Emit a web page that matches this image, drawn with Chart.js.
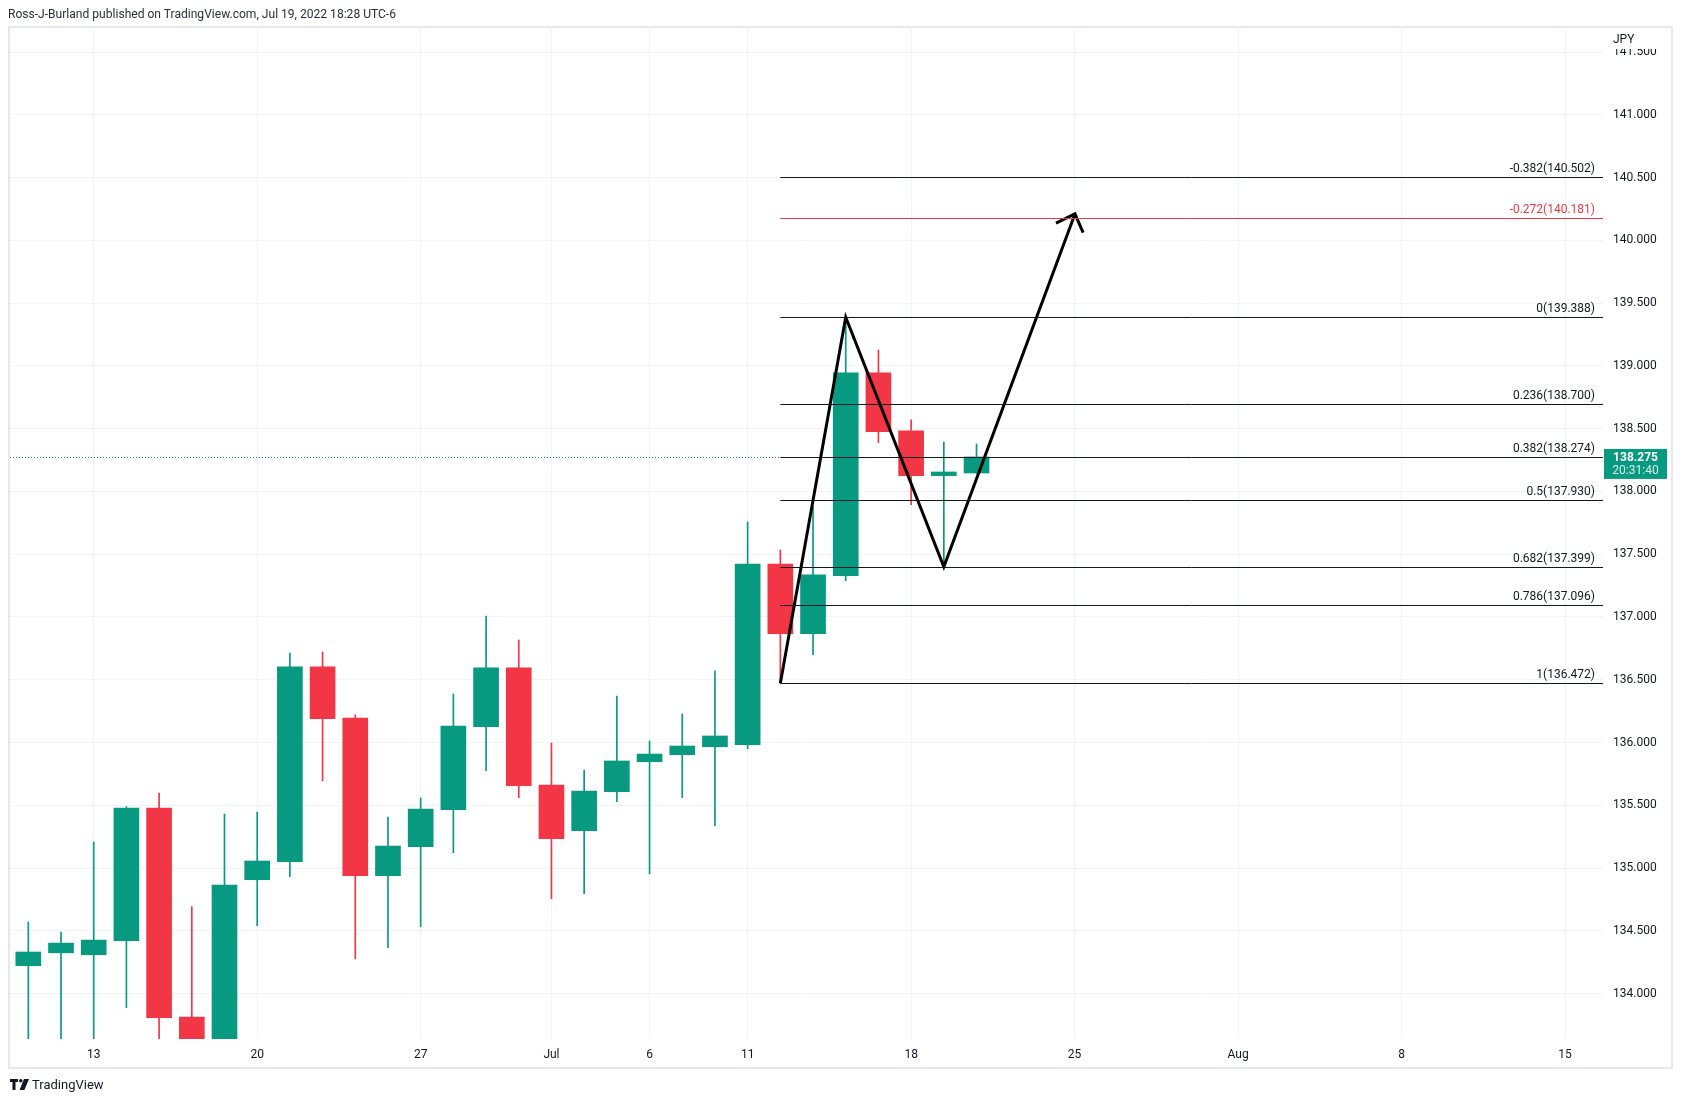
<!DOCTYPE html>
<html lang="en">
  <head>
    <meta charset="UTF-8" />
    <title>USDJPY - Daily</title>
    <script src="https://cdn.jsdelivr.net/npm/chart.js@4.4.0/dist/chart.umd.min.js"></script>
    <style>
      body { margin: 0; background: #fff; }
      #wrap { position: relative; width: 1682px; height: 1103px; overflow: hidden; }
      #myChart { position: absolute; left: 0; top: 0; }
      #hdr {
        position: absolute; left: 8px; top: 7px; white-space: nowrap;
        font: 12px Roboto, sans-serif; color: #2a2e39; transform-origin: 0 0;
      }
      #ftr { position: absolute; left: 10px; top: 1077px; display: flex; align-items: center; }
      #ftr span { font: 13px Roboto, sans-serif; color: #131722; margin-left: 3px; }
    </style>
  </head>
  <body>
    <div id="wrap">
      <canvas id="myChart" width="1682" height="1103"></canvas>
      <div id="hdr">Ross-J-Burland published on TradingView.com, Jul 19, 2022 18:28 UTC-6</div>
      <div id="ftr">
        <svg width="19" height="11" viewBox="0 0 19 11">
          <path d="M0 0h8v3H5.5v8H2.5V3H0z" fill="#131722" />
          <circle cx="10.8" cy="1.8" r="1.8" fill="#131722" />
          <path d="M14 0h5l-4.6 11H9.6z" fill="#131722" />
        </svg>
        <span>TradingView</span>
      </div>
    </div>
    <script>
      // daily candles, Jun 9 .. Jul 20 2022
      const days = ["Jun 9", "Jun 10", "Jun 13", "Jun 14", "Jun 15", "Jun 16", "Jun 17",
        "Jun 20", "Jun 21", "Jun 22", "Jun 23", "Jun 24", "Jun 27", "Jun 28", "Jun 29", "Jun 30",
        "Jul 1", "Jul 4", "Jul 5", "Jul 6", "Jul 7", "Jul 8", "Jul 11", "Jul 12", "Jul 13",
        "Jul 14", "Jul 15", "Jul 18", "Jul 19", "Jul 20"];
      const opens = [134.222, 134.325, 134.309, 134.421, 135.478, 133.813, 132.2,
        134.907, 135.05, 136.602, 136.195, 134.939, 135.17, 135.464, 136.126, 136.594,
        135.661, 135.297, 135.608, 135.847, 135.903, 135.966, 135.982, 137.422, 136.867,
        137.329, 138.944, 138.482, 138.126, 138.147];
      const highs = [134.57, 134.49, 135.207, 135.49, 135.598, 134.692, 135.43,
        135.446, 136.713, 136.721, 136.22, 135.406, 135.558, 136.386, 137.008, 136.817,
        135.996, 135.781, 136.37, 136.012, 136.227, 136.57, 137.757, 137.534, 137.879,
        139.388, 139.127, 138.57, 138.394, 138.378];
      const lows = [133.4, 133.42, 133.55, 133.887, 133.55, 131.5, 132.1,
        134.54, 134.931, 135.696, 134.277, 134.365, 134.532, 135.122, 135.775, 135.56,
        134.755, 134.795, 135.528, 134.954, 135.56, 135.337, 135.951, 136.472, 136.7,
        137.289, 138.389, 137.895, 137.401, 138.14];
      const closes = [134.331, 134.402, 134.426, 135.478, 133.807, 132.2, 134.864,
        135.056, 136.602, 136.19, 134.939, 135.175, 135.47, 136.131, 136.594, 135.656,
        135.233, 135.613, 135.853, 135.908, 135.972, 136.052, 137.422, 136.867, 137.335,
        138.944, 138.476, 138.126, 138.155, 138.275];

      // bar index of each date label (weekdays only, future bars continue the count)
      const xTickIdx = [2, 7, 12, 16, 19, 22, 27, 32, 37, 42, 47];
      const xTickLabels = ["13", "20", "27", "Jul", "6", "11", "18", "25", "Aug", "8", "15"];
      const yTicks = [134, 134.5, 135, 135.5, 136, 136.5, 137, 137.5, 138, 138.5,
        139, 139.5, 140, 140.5, 141, 141.5];

      // fib retracement drawn from the Jul 12 low to the Jul 14 high
      const fibStart = 23;
      const fibRatios = ["-0.382", "-0.272", "0", "0.236", "0.382", "0.5", "0.682", "0.786", "1"];
      const fibPrices = [140.502, 140.181, 139.388, 138.7, 138.274, 137.93, 137.399, 137.096, 136.472];
      const fibColors = ["#131722", "#f23645", "#131722", "#131722", "#131722", "#131722",
        "#131722", "#131722", "#131722"];

      // hand drawn zigzag + arrow head
      const zigX = [23, 25, 28, 32.01];
      const zigY = [136.472, 139.388, 137.399, 140.211];
      const arrowX = [31.43, 32.01, 32.26];
      const arrowY = [140.137, 140.211, 140.062];

      const UP = "#089981";
      const DOWN = "#f23645";
      const lastClose = closes[closes.length - 1];
      const candleColors = opens.map((o, i) => (closes[i] >= o ? UP : DOWN));
      const font = { family: "Roboto, sans-serif", size: 12 };

      const overlay = {
        id: "overlay",
        beforeDraw(chart) {
          const { ctx, chartArea: a } = chart;
          ctx.save();
          ctx.fillStyle = "#fff";
          ctx.fillRect(0, 0, chart.width, chart.height);
          ctx.strokeStyle = "#e6e8ee";
          ctx.lineWidth = 2;
          ctx.strokeRect(a.left - 1, a.top, a.right + 70 - a.left, a.bottom + 29 - a.top);
          ctx.restore();
        },
        afterDatasetsDraw(chart) {
          const { ctx, chartArea: a } = chart;
          const xs = chart.scales.x, ys = chart.scales.y;
          ctx.save();
          ctx.beginPath();
          ctx.rect(a.left, a.top, a.right - a.left, a.bottom - a.top);
          ctx.clip();

          // last price dotted line
          const py = Math.round(ys.getPixelForValue(lastClose)) + 0.5;
          ctx.strokeStyle = UP;
          ctx.lineWidth = 1;
          ctx.setLineDash([1, 2]);
          ctx.beginPath();
          ctx.moveTo(a.left, py);
          ctx.lineTo(a.right, py);
          ctx.stroke();
          ctx.setLineDash([]);

          const x0 = xs.getPixelForValue(fibStart);
          ctx.font = "12px Roboto, sans-serif";
          ctx.textAlign = "right";
          ctx.textBaseline = "bottom";
          fibPrices.forEach((p, i) => {
            const y = Math.round(ys.getPixelForValue(p)) + 0.5;
            ctx.strokeStyle = fibColors[i];
            ctx.beginPath();
            ctx.moveTo(x0, y);
            ctx.lineTo(a.right, y);
            ctx.stroke();
            ctx.fillStyle = fibColors[i];
            ctx.fillText(fibRatios[i] + "(" + p.toFixed(3) + ")", a.right - 8, y - 3);
          });
          ctx.restore();
        },
        afterDraw(chart) {
          const { ctx, chartArea: a } = chart;
          const ys = chart.scales.y;
          ctx.save();
          // axis header covers the top tick label
          ctx.fillStyle = "#fff";
          ctx.fillRect(a.right + 1, a.top + 1, 66, 21);
          ctx.fillStyle = "#131722";
          ctx.font = "12px Roboto, sans-serif";
          ctx.textBaseline = "middle";
          ctx.fillText("JPY", a.right + 10, a.top + 13);

          // last price tag
          const py = ys.getPixelForValue(lastClose);
          ctx.fillStyle = UP;
          ctx.fillRect(a.right + 1, py - 8, 63, 30);
          ctx.textAlign = "center";
          ctx.fillStyle = "#fff";
          ctx.font = "bold 12px Roboto, sans-serif";
          ctx.fillText(lastClose.toFixed(3), a.right + 32.5, py + 1);
          ctx.fillStyle = "rgba(255,255,255,0.85)";
          ctx.font = "12px Roboto, sans-serif";
          ctx.fillText("20:31:40", a.right + 32.5, py + 14);
          ctx.restore();
        },
      };

      const config = {
        type: "bar",
        data: {
          datasets: [
            {
              type: "line",
              data: zigX.map((x, i) => ({ x: x, y: zigY[i] })),
              borderColor: "#000",
              borderWidth: 3,
              pointRadius: 0,
              tension: 0,
              order: 0,
            },
            {
              type: "line",
              data: arrowX.map((x, i) => ({ x: x, y: arrowY[i] })),
              borderColor: "#000",
              borderWidth: 3,
              pointRadius: 0,
              tension: 0,
              order: 0,
            },
            {
              label: "body",
              data: opens.map((o, i) => ({ x: i, y: [o, closes[i]] })),
              backgroundColor: candleColors,
              barThickness: 25,
              grouped: false,
              order: 1,
            },
            {
              label: "wick",
              data: lows.map((l, i) => ({ x: i, y: [l, highs[i]] })),
              backgroundColor: candleColors,
              barThickness: 1,
              grouped: false,
              order: 2,
            },
          ],
        },
        options: {
          responsive: false,
          animation: false,
          devicePixelRatio: 1,
          layout: { padding: { left: 10, top: 27, right: 9, bottom: 35 } },
          plugins: { legend: { display: false }, tooltip: { enabled: false } },
          scales: {
            x: {
              type: "linear",
              min: -0.56,
              max: 48.16,
              offset: false,
              grid: { color: "#f0f3fa", drawTicks: false, offset: false },
              border: { display: false },
              ticks: {
                padding: 9,
                color: "#131722",
                font: font,
                maxRotation: 0,
                autoSkip: false,
                callback: (v) => {
                  const k = xTickIdx.indexOf(v);
                  return k >= 0 ? xTickLabels[k] : "";
                },
              },
              afterBuildTicks: (s) => {
                s.ticks = xTickIdx.map((v) => ({ value: v }));
              },
              afterFit: (s) => {
                s.height = 29;
              },
            },
            y: {
              position: "right",
              min: 133.638,
              max: 141.7,
              grid: { color: "#f0f3fa", drawTicks: false },
              border: { display: false },
              ticks: {
                padding: 10,
                color: "#131722",
                font: font,
                callback: (v) => Number(v).toFixed(3),
              },
              afterBuildTicks: (s) => {
                s.ticks = yTicks.map((v) => ({ value: v }));
              },
              afterFit: (s) => {
                s.width = 70;
              },
            },
          },
        },
        plugins: [overlay],
      };

      let myChart = new Chart(document.getElementById("myChart"), config);

      // stretch the byline to the width it takes in the original
      let hdr = document.getElementById("hdr");
      hdr.style.transform = "scaleX(" + 388 / hdr.getBoundingClientRect().width + ")";
    </script>
  </body>
</html>
